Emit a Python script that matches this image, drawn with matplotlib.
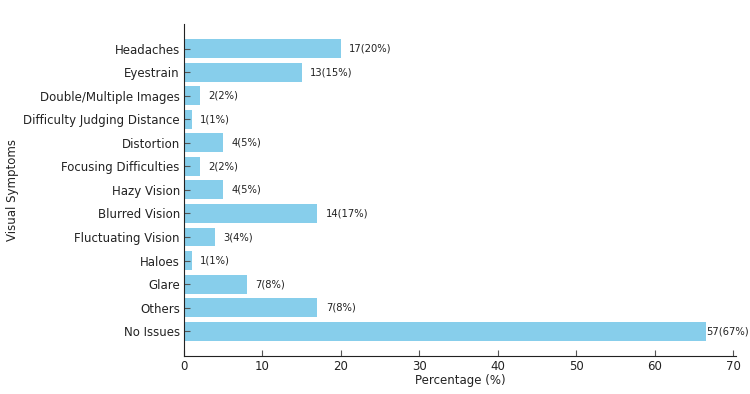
import matplotlib
matplotlib.use("Agg")
import matplotlib.pyplot as plt

categories = ["Headaches", "Eyestrain", "Double/Multiple Images", "Difficulty Judging Distance",
              "Distortion", "Focusing Difficulties", "Hazy Vision", "Blurred Vision",
              "Fluctuating Vision", "Haloes", "Glare", "Others", "No Issues"]
percentages = [20, 15, 2, 1, 5, 2, 5, 17, 4, 1, 8, 17, 66.5]
bar_labels = ["17(20%)", "13(15%)", "2(2%)", "1(1%)", "4(5%)", "2(2%)", "4(5%)",
              "14(17%)", "3(4%)", "1(1%)", "7(8%)", "7(8%)", "57(67%)"]
xticks = [0, 10, 20, 30, 40, 50, 60, 70]

fig = plt.figure(figsize=(7.5, 3.94), dpi=100)
ax = fig.add_axes([0.2453, 0.097, 0.7357, 0.842])

ypos = list(range(len(categories)))[::-1]
bars = ax.barh(ypos, percentages, height=0.8, color="#87CEEB")
ax.set_yticks(ypos)
ax.set_yticklabels(categories, fontsize=8.5, color="#222222")
ax.set_xticks(xticks)
ax.set_xticklabels([str(t) for t in xticks], fontsize=8.5, color="#222222")
ax.set_xlim(0, 70.3)
ax.set_ylim(-1.04, 13.04)

for i, (b, lab, v) in enumerate(zip(bars, bar_labels, percentages)):
    y = b.get_y() + b.get_height() / 2
    off = 0 if i == len(percentages) - 1 else 6
    ax.annotate(lab, (v, y), xytext=(off, 0), textcoords="offset points",
                ha="left", va="center", fontsize=7.2, color="#222222")

ax.set_xlabel("Percentage (%)", fontsize=8.5, color="#222222", labelpad=1)
ax.set_ylabel("Visual Symptoms", fontsize=8.5, color="#222222", labelpad=3)
for s in ["top", "right"]:
    ax.spines[s].set_visible(False)
ax.spines["left"].set_color("#222222")
ax.spines["bottom"].set_color("#222222")
ax.tick_params(direction="in", length=4, color="#555555", pad=3)

fig.savefig("out.png", dpi=100)
